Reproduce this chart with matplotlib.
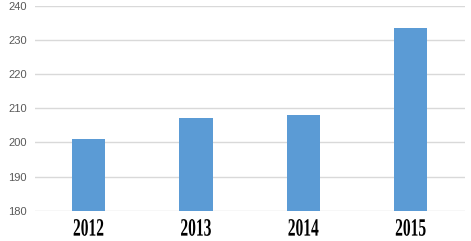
import matplotlib
matplotlib.use('Agg')
import matplotlib.pyplot as plt
from matplotlib import patheffects
from matplotlib.transforms import Affine2D

# Datos del gráfico
anios = ['2012', '2013', '2014', '2015']
valores = [201.0, 207.2, 208.1, 233.5]


# Efecto para estrechar horizontalmente el texto (fuente condensada)
class Estrechar(patheffects.AbstractPathEffect):
    def __init__(self, sx):
        super().__init__()
        self.sx = sx

    def draw_path(self, renderer, gc, tpath, affine, rgbFace=None):
        verts = affine.transform(tpath.vertices)
        cx = (verts[:, 0].min() + verts[:, 0].max()) / 2
        nuevo = affine + Affine2D().translate(-cx, 0).scale(self.sx, 1).translate(cx, 0)
        renderer.draw_path(gc, tpath, nuevo, rgbFace)


fig = plt.figure(figsize=(4.71, 2.41), dpi=100)
ax = fig.add_axes([35 / 471, 30.3 / 241, 429.5 / 471, 204.7 / 241])

x = range(len(anios))
ax.bar(x, valores, width=0.31, color='#5b9bd5', zorder=3)

ax.set_ylim(180, 240)
ax.set_xlim(-0.5, 3.5)
ax.set_yticks(range(180, 241, 10))
ax.grid(axis='y', color='#d9d9d9', linewidth=1, zorder=0)

for lado in ['top', 'right', 'left', 'bottom']:
    ax.spines[lado].set_visible(False)

ax.tick_params(axis='both', length=0)
ax.tick_params(axis='y', labelsize=8, labelcolor='#595959', pad=6)
ax.set_xticks(list(x))
ax.set_xticklabels(anios, fontfamily='Liberation Serif', fontweight='bold',
                   fontsize=18, color='black')
ax.tick_params(axis='x', pad=5)
for lbl in ax.get_xticklabels():
    lbl.set_path_effects([Estrechar(0.62)])
for lbl in ax.get_yticklabels():
    lbl.set_fontfamily('Liberation Sans')

fig.savefig('out.png', dpi=100)
